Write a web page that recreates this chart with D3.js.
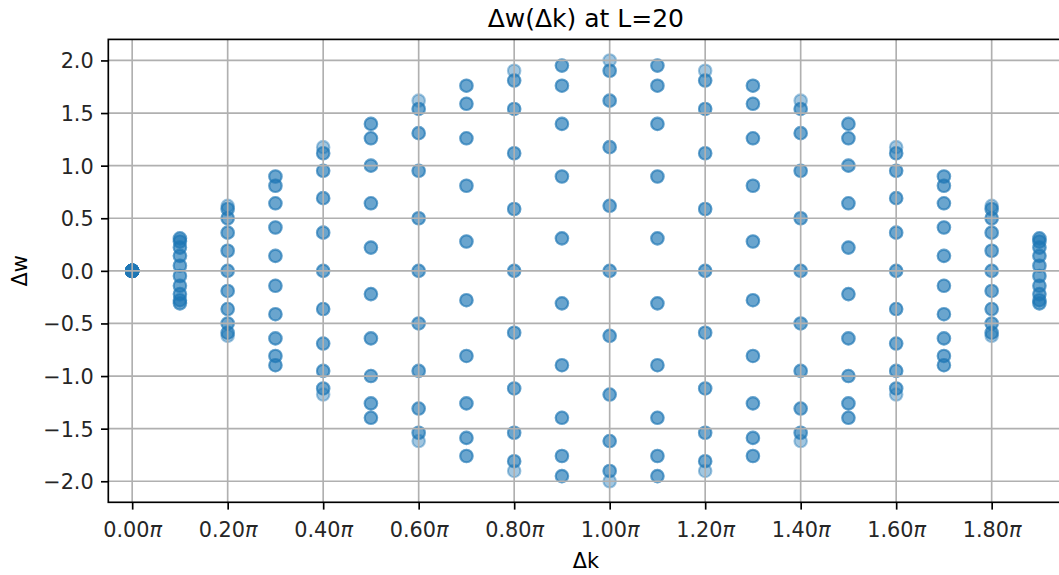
<!DOCTYPE html>
<html>
<head>
<meta charset="utf-8">
<script src="https://cdn.jsdelivr.net/npm/d3@7"></script>
<style>
  html, body { margin: 0; padding: 0; background: #ffffff; }
  svg { display: block; font-family: "DejaVu Sans", sans-serif; }
</style>
</head>
<body>
<svg id="chart" width="1059" height="575"></svg>
<script>
// Momentum transfer columns, in units of pi
const dk = [0.0, 0.1, 0.2, 0.3, 0.4, 0.5, 0.6, 0.7, 0.8, 0.9,
            1.0, 1.1, 1.2, 1.3, 1.4, 1.5, 1.6, 1.7, 1.8, 1.9];

// Energy differences for every k at each momentum transfer (20 sites)
const dw00 = [0, 0, 0, 0, 0, 0, 0, 0, 0, 0, 0, 0, 0, 0, 0, 0, 0, 0, 0, 0];
const dw01 = [0.049, 0.142, 0.221, 0.279, 0.309, 0.309, 0.279, 0.221, 0.142, 0.049,
              -0.049, -0.142, -0.221, -0.279, -0.309, -0.309, -0.279, -0.221, -0.142, -0.049];
const dw02 = [0, 0.191, 0.363, 0.500, 0.588, 0.618, 0.588, 0.500, 0.363, 0.191,
              0, -0.191, -0.363, -0.500, -0.588, -0.618, -0.588, -0.500, -0.363, -0.191];
const dw03 = [0.142, 0.412, 0.642, 0.809, 0.897, 0.897, 0.809, 0.642, 0.412, 0.142,
              -0.142, -0.412, -0.642, -0.809, -0.897, -0.897, -0.809, -0.642, -0.412, -0.142];
const dw04 = [0, 0.363, 0.691, 0.951, 1.118, 1.176, 1.118, 0.951, 0.691, 0.363,
              0, -0.363, -0.691, -0.951, -1.118, -1.176, -1.118, -0.951, -0.691, -0.363];
const dw05 = [0.221, 0.642, 1.000, 1.260, 1.397, 1.397, 1.260, 1.000, 0.642, 0.221,
              -0.221, -0.642, -1.000, -1.260, -1.397, -1.397, -1.260, -1.000, -0.642, -0.221];
const dw06 = [0, 0.500, 0.951, 1.309, 1.539, 1.618, 1.539, 1.309, 0.951, 0.500,
              0, -0.500, -0.951, -1.309, -1.539, -1.618, -1.539, -1.309, -0.951, -0.500];
const dw07 = [0.279, 0.809, 1.260, 1.588, 1.760, 1.760, 1.588, 1.260, 0.809, 0.279,
              -0.279, -0.809, -1.260, -1.588, -1.760, -1.760, -1.588, -1.260, -0.809, -0.279];
const dw08 = [0, 0.588, 1.118, 1.539, 1.809, 1.902, 1.809, 1.539, 1.118, 0.588,
              0, -0.588, -1.118, -1.539, -1.809, -1.902, -1.809, -1.539, -1.118, -0.588];
const dw09 = [0.309, 0.897, 1.397, 1.760, 1.951, 1.951, 1.760, 1.397, 0.897, 0.309,
              -0.309, -0.897, -1.397, -1.760, -1.951, -1.951, -1.760, -1.397, -0.897, -0.309];
const dw10 = [0, 0.618, 1.176, 1.618, 1.902, 2.000, 1.902, 1.618, 1.176, 0.618,
              0, -0.618, -1.176, -1.618, -1.902, -2.000, -1.902, -1.618, -1.176, -0.618];
const dw11 = [0.309, 0.897, 1.397, 1.760, 1.951, 1.951, 1.760, 1.397, 0.897, 0.309,
              -0.309, -0.897, -1.397, -1.760, -1.951, -1.951, -1.760, -1.397, -0.897, -0.309];
const dw12 = [0, 0.588, 1.118, 1.539, 1.809, 1.902, 1.809, 1.539, 1.118, 0.588,
              0, -0.588, -1.118, -1.539, -1.809, -1.902, -1.809, -1.539, -1.118, -0.588];
const dw13 = [0.279, 0.809, 1.260, 1.588, 1.760, 1.760, 1.588, 1.260, 0.809, 0.279,
              -0.279, -0.809, -1.260, -1.588, -1.760, -1.760, -1.588, -1.260, -0.809, -0.279];
const dw14 = [0, 0.500, 0.951, 1.309, 1.539, 1.618, 1.539, 1.309, 0.951, 0.500,
              0, -0.500, -0.951, -1.309, -1.539, -1.618, -1.539, -1.309, -0.951, -0.500];
const dw15 = [0.221, 0.642, 1.000, 1.260, 1.397, 1.397, 1.260, 1.000, 0.642, 0.221,
              -0.221, -0.642, -1.000, -1.260, -1.397, -1.397, -1.260, -1.000, -0.642, -0.221];
const dw16 = [0, 0.363, 0.691, 0.951, 1.118, 1.176, 1.118, 0.951, 0.691, 0.363,
              0, -0.363, -0.691, -0.951, -1.118, -1.176, -1.118, -0.951, -0.691, -0.363];
const dw17 = [0.142, 0.412, 0.642, 0.809, 0.897, 0.897, 0.809, 0.642, 0.412, 0.142,
              -0.142, -0.412, -0.642, -0.809, -0.897, -0.897, -0.809, -0.642, -0.412, -0.142];
const dw18 = [0, 0.191, 0.363, 0.500, 0.588, 0.618, 0.588, 0.500, 0.363, 0.191,
              0, -0.191, -0.363, -0.500, -0.588, -0.618, -0.588, -0.500, -0.363, -0.191];
const dw19 = [0.049, 0.142, 0.221, 0.279, 0.309, 0.309, 0.279, 0.221, 0.142, 0.049,
              -0.049, -0.142, -0.221, -0.279, -0.309, -0.309, -0.279, -0.221, -0.142, -0.049];

const dwColumns = [dw00, dw01, dw02, dw03, dw04, dw05, dw06, dw07, dw08, dw09,
                   dw10, dw11, dw12, dw13, dw14, dw15, dw16, dw17, dw18, dw19];

// Axis ticks
const xTicks = [0.0, 0.2, 0.4, 0.6, 0.8, 1.0, 1.2, 1.4, 1.6, 1.8];
const yTicks = [-2.0, -1.5, -1.0, -0.5, 0.0, 0.5, 1.0, 1.5, 2.0];

const titleText = "\u0394w(\u0394k) at L=20";
const xLabelText = "\u0394k";
const yLabelText = "\u0394w";

// ---- layout ----
const plot = { left: 108.3, right: 1063.3, top: 39.4, bottom: 502.3 };
const color = "#1f77b4";
const markerAlpha = 0.42;
const tickFont = 20.8;

const svg = d3.select("#chart");

const x = d3.scaleLinear().domain([-0.05, 1.95]).range([plot.left, plot.right]);
const y = d3.scaleLinear().domain([-2.2, 2.2]).range([plot.bottom, plot.top]);

// flatten into points
const points = [];
dk.forEach((k, i) => dwColumns[i].forEach(w => points.push({ k, w })));

const clipId = "plot-clip";
svg.append("clipPath").attr("id", clipId)
  .append("rect")
  .attr("x", plot.left).attr("y", plot.top)
  .attr("width", plot.right - plot.left).attr("height", plot.bottom - plot.top);

// scatter markers (semi-transparent, edge in the same colour)
svg.append("g").attr("clip-path", `url(#${clipId})`)
  .selectAll("circle")
  .data(points)
  .join("circle")
  .attr("cx", d => x(d.k))
  .attr("cy", d => y(d.w))
  .attr("r", 6.25)
  .attr("fill", color)
  .attr("fill-opacity", markerAlpha)
  .attr("stroke", color)
  .attr("stroke-opacity", markerAlpha)
  .attr("stroke-width", 2.08);

// grid lines drawn above the markers
const grid = svg.append("g").attr("stroke", "#b0b0b0").attr("stroke-width", 1.67);
grid.selectAll("line.gx").data(xTicks).join("line")
  .attr("class", "gx")
  .attr("x1", d => x(d)).attr("x2", d => x(d))
  .attr("y1", plot.top).attr("y2", plot.bottom);
grid.selectAll("line.gy").data(yTicks).join("line")
  .attr("class", "gy")
  .attr("x1", plot.left).attr("x2", plot.right)
  .attr("y1", d => y(d)).attr("y2", d => y(d));

// axes
const piFormat = d => d3.format(".2f")(d);
const xAxis = d3.axisBottom(x).tickValues(xTicks).tickSize(7.3).tickPadding(7.3)
  .tickFormat(piFormat);
const yAxis = d3.axisLeft(y).tickValues(yTicks).tickSize(7.3).tickPadding(7.3)
  .tickFormat(d => d3.format(".1f")(d).replace("-", "\u2212"));

const gx = svg.append("g").attr("transform", `translate(0,${plot.bottom})`).call(xAxis);
const gy = svg.append("g").attr("transform", `translate(${plot.left},0)`).call(yAxis);

[gx, gy].forEach(g => {
  g.select(".domain").remove();
  g.selectAll(".tick line").attr("stroke", "#000").attr("stroke-width", 1.67);
  g.selectAll(".tick text")
    .attr("fill", "#262626")
    .style("font-family", "'DejaVu Sans', sans-serif")
    .style("font-size", tickFont + "px");
});

// x tick labels carry an italic pi
gx.selectAll(".tick text")
  .attr("dy", null)
  .attr("y", 35.2)
  .each(function (d) {
    const t = d3.select(this);
    t.text(null);
    t.append("tspan").text(piFormat(d));
    t.append("tspan").attr("font-style", "italic").text("\u03c0");
  });

gy.selectAll(".tick text").attr("dy", null).attr("y", 7.5);

// spines
const spines = svg.append("g").attr("stroke", "#000").attr("stroke-width", 1.67).attr("fill", "none");
spines.append("rect")
  .attr("x", plot.left).attr("y", plot.top)
  .attr("width", plot.right - plot.left).attr("height", plot.bottom - plot.top);

// title and axis labels
svg.append("text")
  .attr("x", (plot.left + plot.right) / 2)
  .attr("y", 26.8)
  .attr("text-anchor", "middle")
  .attr("fill", "#000")
  .style("font-size", "25px")
  .text(titleText);

svg.append("text")
  .attr("x", (plot.left + plot.right) / 2)
  .attr("y", 568)
  .attr("text-anchor", "middle")
  .attr("fill", "#000")
  .style("font-size", tickFont + "px")
  .text(xLabelText);

svg.append("text")
  .attr("transform", `translate(27,${(plot.top + plot.bottom) / 2}) rotate(-90)`)
  .attr("text-anchor", "middle")
  .attr("fill", "#000")
  .style("font-size", tickFont + "px")
  .text(yLabelText);
</script>
</body>
</html>
